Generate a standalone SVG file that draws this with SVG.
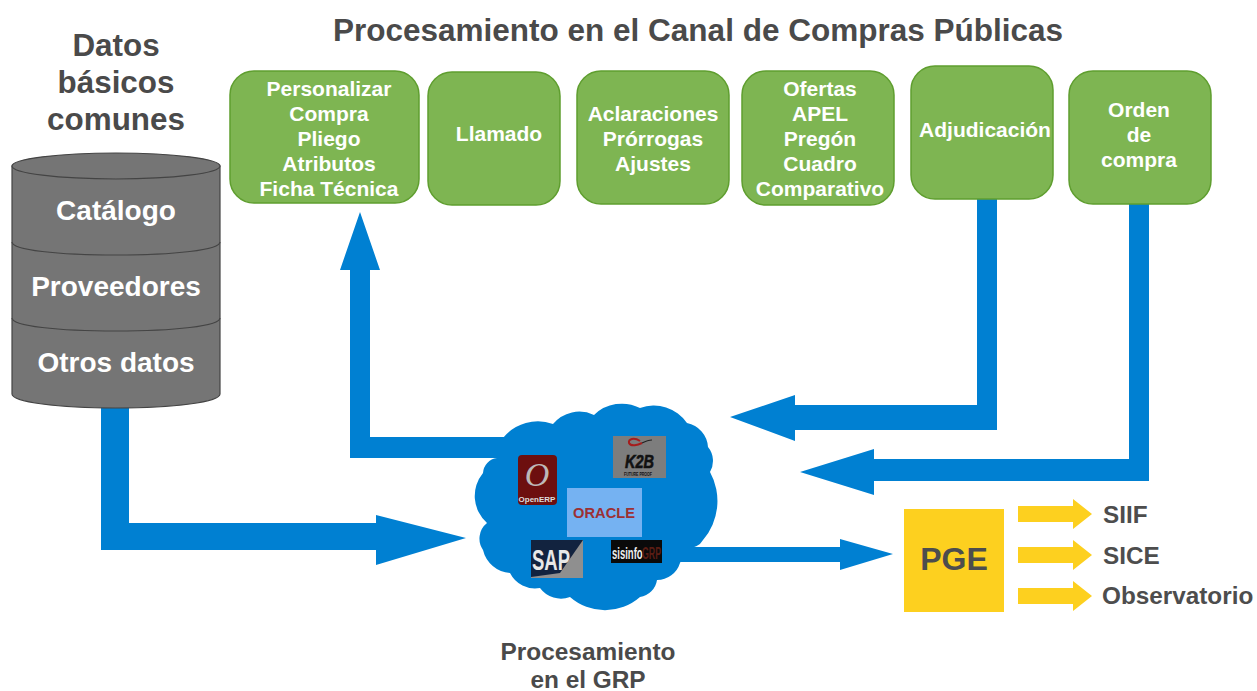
<svg xmlns="http://www.w3.org/2000/svg" width="1257" height="691" viewBox="0 0 1257 691">
<style>
text{font-family:"Liberation Sans",Arial,sans-serif;font-weight:700;text-anchor:middle}
.g{fill:#7eb552;stroke:#5f9e2f;stroke-width:1.5}
.gt{fill:#fff;font-size:21px}
.h{fill:#4a4a4a}
.db{fill:#757575;stroke:#444;stroke-width:1.2}
.dt{fill:#fff;font-size:28px}
.b{fill:#0080d2}
.y{fill:#fdd01f}
.o{fill:#4d4d4d;font-size:24.300px;text-anchor:start}
.s{text-anchor:start}
</style>
<rect width="1257" height="691" fill="#fff"/>
<text class="h" x="698" y="41" font-size="31.500">Procesamiento en el Canal de Compras Públicas</text>
<g id="connectors">
<path class="b" d="M101 405H129V523H376V515L466 538 376 565V550H101Z"/>
<path class="b" d="M520 437H370V270H380L360 212 340 270H350V458H520Z"/>
<path class="b" d="M977 195H997V430H795V441L730 417 795 395V405H977Z"/>
<path class="b" d="M1129 202H1149V481H874V495L800 472 874 449V459H1129Z"/>
<path class="b" d="M670 547H840V539L893 554 840 570V562H670Z"/>
</g>
<g id="datos"><text class="h" font-size="31.400"><tspan x="116" y="56">Datos</tspan><tspan x="116" y="93">básicos</tspan><tspan x="116" y="130">comunes</tspan></text></g>
<g id="database">
<path class="db" d="M12 166V394C12 402 58 408 116 408S220 402 220 394V166Z"/>
<path d="M12 242C12 250 58 255 116 255S220 250 220 242M12 318C12 326 58 331 116 331S220 326 220 318" fill="none" stroke="#444" stroke-width="1.2"/>
<ellipse class="db" cx="116" cy="166" rx="104" ry="13"/>
<text class="dt" x="116" y="220">Catálogo</text>
<text class="dt" x="116" y="296">Proveedores</text>
<text class="dt" x="116" y="372">Otros datos</text>
</g>
<g id="n1"><rect class="g" x="230" y="71" width="189" height="132" rx="24"/><text class="gt"><tspan x="329" y="96">Personalizar</tspan><tspan x="329" y="121">Compra</tspan><tspan x="329" y="146">Pliego</tspan><tspan x="329" y="171">Atributos</tspan><tspan x="329" y="196">Ficha Técnica</tspan></text></g>
<g id="n2"><rect class="g" x="428" y="72" width="132" height="133" rx="24"/><text class="gt" x="499" y="141">Llamado</text></g>
<g id="n3"><rect class="g" x="577" y="71" width="152" height="133" rx="24"/><text class="gt"><tspan x="653" y="121">Aclaraciones</tspan><tspan x="653" y="146">Prórrogas</tspan><tspan x="653" y="171">Ajustes</tspan></text></g>
<g id="n4"><rect class="g" x="742" y="71" width="152" height="134" rx="24"/><text class="gt"><tspan x="820" y="96">Ofertas</tspan><tspan x="820" y="121">APEL</tspan><tspan x="820" y="146">Pregón</tspan><tspan x="820" y="171">Cuadro</tspan><tspan x="820" y="196">Comparativo</tspan></text></g>
<g id="n5"><rect class="g" x="911" y="66" width="142" height="133" rx="24"/><text class="gt" x="985" y="137">Adjudicación</text></g>
<g id="n6"><rect class="g" x="1069" y="71" width="142" height="133" rx="24"/><text class="gt"><tspan x="1139" y="117">Orden</tspan><tspan x="1139" y="142">de</tspan><tspan x="1139" y="167">compra</tspan></text></g>
<g id="cloud">
<path class="b" d="M487 523A36 36 0 0 1 483 473A16 16 0 0 1 497 458A18 18 0 0 1 503 438A45 45 0 0 1 553 424A34 34 0 0 1 594 415A40 40 0 0 1 640 408A40 40 0 0 1 687 423A26 26 0 0 1 708 447A22 22 0 0 1 710 472A60 60 0 0 1 703 540A14 14 0 0 1 687 547L680 563A24 24 0 0 1 657 580A20 20 0 0 1 640 597A53 53 0 0 1 570 597A26 26 0 0 1 540 588A28 28 0 0 1 510 573A30 30 0 0 1 483 550A20 20 0 0 1 487 523Z"/>
<g id="logo-openerp"><rect x="518" y="455" width="39" height="50" rx="4" fill="#6d0f0f"/><text x="537" y="486" font-size="34" fill="#bdb8b8" style="font-family:'Liberation Serif',serif;font-style:italic;font-weight:400">O</text><text x="537" y="502" font-size="8" fill="#ddd">OpenERP</text></g>
<g id="logo-k2b"><rect x="613" y="436" width="53" height="42" fill="#7d7d7d"/><path d="M640 441C634 437 628 439 629 443 631 447 638 445 642 443" fill="none" stroke="#a61c1c" stroke-width="2"/><path d="M642 443C646 441 650 440 652 440" fill="none" stroke="#222" stroke-width="1.200"/><text class="s" x="625" y="468" font-size="18" textLength="29" lengthAdjust="spacingAndGlyphs" font-style="italic" stroke="#111" stroke-width=".6" fill="#111">K2B</text><text class="s" x="624" y="476" font-size="5" textLength="28" lengthAdjust="spacingAndGlyphs" fill="#111">FUTURE PROOF</text></g>
<g id="logo-oracle"><rect x="567" y="488" width="75" height="49" fill="#75b2f2"/><text class="s" x="573" y="518" font-size="15" textLength="62" lengthAdjust="spacingAndGlyphs" fill="#9c3034">ORACLE</text></g>
<g id="logo-sap"><rect x="531" y="540" width="52" height="38" fill="#8f8f8f"/><path d="M531 540H583L560 573 531 577Z" fill="#12233f"/><text class="s" x="532" y="570" font-size="30" textLength="38" lengthAdjust="spacingAndGlyphs" fill="#e8e8e8">SAP</text></g>
<g id="logo-sisinfo"><rect x="611" y="540" width="51" height="23" fill="#0a0a0a"/><text class="s" transform="translate(612 559) scale(.56 1)" font-size="17" fill="#eee">sisinfo</text><text class="s" transform="translate(642 559) scale(.52 1)" font-size="17" fill="#5a1d14">GRP</text></g>
</g>
<g id="pge"><rect class="y" x="904" y="509" width="100" height="103"/><text x="954" y="570" font-size="32" fill="#4d4d4d">PGE</text></g>
<g id="outputs">
<path class="y" d="M1018 506H1073V499L1092 514 1073 529V522H1018Z"/>
<path class="y" d="M1018 547H1073V540L1092 555 1073 570V563H1018Z"/>
<path class="y" d="M1018 588H1073V581L1092 596 1073 611V604H1018Z"/>
<text class="o" x="1103" y="523">SIIF</text>
<text class="o" x="1103" y="564">SICE</text>
<text class="o" x="1102" y="604">Observatorio</text>
</g>
<g id="grp"><text class="h" font-size="24.400"><tspan x="588" y="660">Procesamiento</tspan><tspan x="588" y="688">en el GRP</tspan></text></g>
</svg>
